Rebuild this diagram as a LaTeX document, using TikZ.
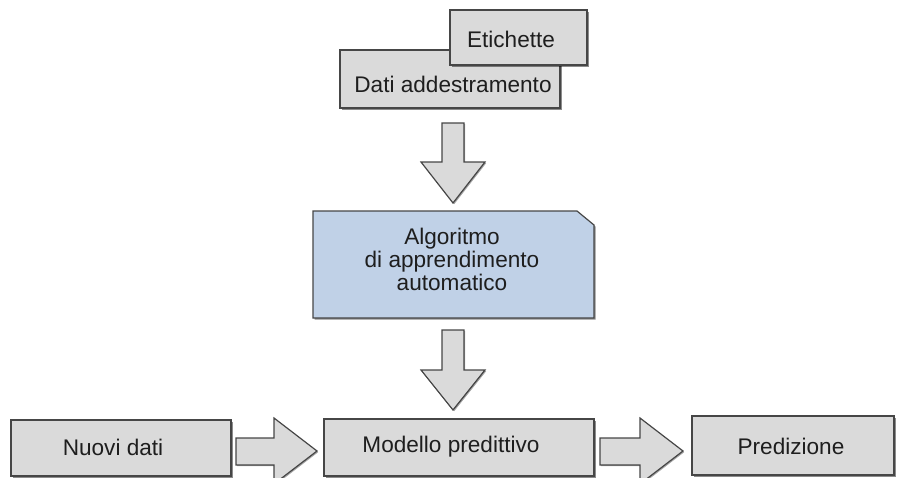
\documentclass[tikz,border=0pt]{standalone}
\usepackage{fontspec}
\setmainfont{Liberation Sans}
\usetikzlibrary{shadows}
\definecolor{boxgray}{RGB}{218,218,218}
\definecolor{boxblue}{RGB}{192,209,231}
\definecolor{edgegray}{RGB}{70,70,70}
\definecolor{txt}{RGB}{30,30,30}
\begin{document}
\begin{tikzpicture}[x=0.5pt,y=-0.5pt,
  every node/.style={text=txt,font=\fontsize{11.3pt}{9.6pt}\selectfont},
  box/.style={draw=edgegray,line width=0.6pt,fill=boxgray,inner sep=0pt,
    drop shadow={shadow xshift=0.8pt,shadow yshift=-0.8pt,opacity=0.45,fill=black}},
  fatarrow/.style={draw=edgegray,line width=0.6pt,fill=boxgray,line join=miter,
    drop shadow={shadow xshift=0.6pt,shadow yshift=-0.6pt,opacity=0.35,fill=black}}]
\useasboundingbox (0,0) rectangle (900,477);

% training data with its labels on top
\node[box,minimum width=110pt,minimum height=29pt] (dati) at (450,79) {};
\node (datitxt) at (453,84) {Dati addestramento};
\node[box,minimum width=68.5pt,minimum height=27.5pt] (etich) at (518.5,37.5) {};
\node (etichtxt) at (511,39) {Etichette};

% down arrow into the learning algorithm
\draw[fatarrow] (442,123) -- (464,123) -- (464,162) -- (485,162) -- (453,203)
  -- (421,162) -- (442,162) -- cycle;

% learning algorithm (card with a cut corner)
\path[draw=edgegray,line width=0.6pt,fill=boxblue,
    drop shadow={shadow xshift=0.8pt,shadow yshift=-0.8pt,opacity=0.45,fill=black}]
  (313,211) -- (577,211) -- (594,225) -- (594,318) -- (313,318) -- cycle;
\node[align=center] (algo) at (452,259) {Algoritmo\\di apprendimento\\automatico};

% down arrow into the model
\draw[fatarrow] (442,330) -- (464,330) -- (464,370) -- (485,370) -- (453,410)
  -- (421,370) -- (442,370) -- cycle;

% bottom row
\node[box,minimum width=110pt,minimum height=28pt] (nuovi) at (121,448) {};
\node (nuovitxt) at (113,447) {Nuovi dati};
\node[box,minimum width=135pt,minimum height=28.5pt] (modello) at (459,447.5) {};
\node (modellotxt) at (451,447) {Modello predittivo};
\node[box,minimum width=101pt,minimum height=29.5pt] (pred) at (793,445.5) {};
\node (predtxt) at (791,446) {Predizione};

% right arrows between the bottom boxes
\draw[fatarrow] (236,438) -- (274,438) -- (274,418) -- (317,451) -- (274,484)
  -- (274,465) -- (236,465) -- cycle;
\draw[fatarrow] (600,438) -- (640,438) -- (640,418) -- (683,451) -- (640,484)
  -- (640,465) -- (600,465) -- cycle;
\end{tikzpicture}
\end{document}
